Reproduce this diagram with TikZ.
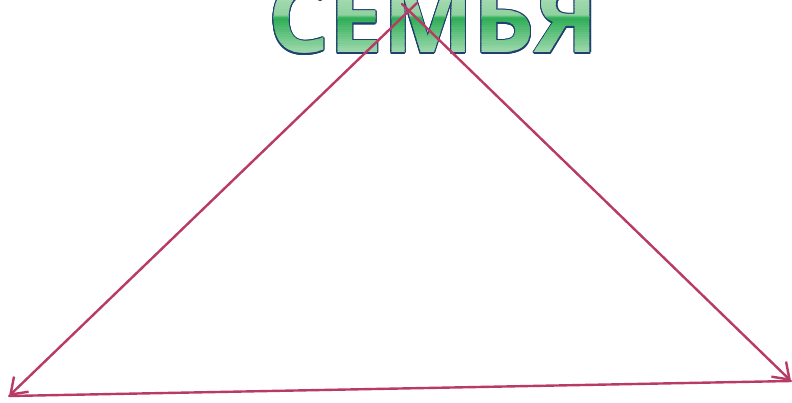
\documentclass[tikz,border=0pt]{standalone}
\usepackage{fontspec}
\setmainfont{Open Sans}
\usetikzlibrary{arrows.meta}
\definecolor{lineclr}{HTML}{B83A65}
\definecolor{navy}{HTML}{1F3F6E}
\definecolor{gtop}{HTML}{C3E7CA}
\definecolor{gmidl}{HTML}{8FD19F}
\definecolor{gdark}{HTML}{2FAE57}
\definecolor{gbot}{HTML}{A9DDB5}
\newcommand{\semyafont}{\fontsize{96}{96}\selectfont\bfseries}
\newcommand{\semyatext}{СЕМЬЯ}
\tikzset{
  arr/.style={draw=lineclr, line width=2.4pt, line cap=round,
    -{Straight Barb[length=15pt,width=21pt,line width=2.4pt]}},
  plainline/.style={draw=lineclr, line width=2.4pt, line cap=round},
  ttl/.style={font=\semyafont, anchor=base, inner sep=0pt}
}
% band: #1 = top y (px), #2 = bottom y (px), #3 = colour A (top), #4 = colour B (bottom), #5 = steps
\newcommand{\gradband}[5]{%
  \pgfmathsetmacro{\bh}{(#2-#1)/#5}%
  \foreach \k in {1,...,#5}{%
    \pgfmathsetmacro{\ytop}{402-(#1+(\k-1)*\bh)+0.3}%
    \pgfmathsetmacro{\ybot}{402-(#1+\k*\bh)-0.3}%
    \pgfmathtruncatemacro{\pp}{100*(\k-0.5)/#5}%
    \colorlet{bandclr}{#4!\pp!#3}%
    \begin{scope}
      \clip (250,\ybot) rectangle (620,\ytop);
      \node[ttl, text=bandclr] (b\k) at (433.5,349) {\semyatext};
    \end{scope}
  }%
}
\begin{document}
\begin{tikzpicture}[x=1pt,y=1pt]
  \useasboundingbox (0,0) rectangle (792,402);
  % title outline
  \foreach \a [count=\i] in {0,22.5,...,337.5}
    \node[ttl, text=navy] (o\i) at ([shift={(\a:1.1)}]433.5,349) {\semyatext};
  % gradient title in bands
  \gradband{-25}{16}{gtop}{gmidl}{14}
  \gradband{16}{19}{gmidl}{gdark}{3}
  \gradband{19}{56}{gdark}{gbot}{16}
  % connectors
  \coordinate (topL) at (417,399);
  \coordinate (topR) at (402,398);
  \coordinate (bl) at (9,6);
  \coordinate (br) at (791,21);
  \draw[plainline] (bl) -- (br);
  \draw[arr] (topL) -- (bl);
  \draw[arr] (topR) -- (br);
\end{tikzpicture}
\end{document}
